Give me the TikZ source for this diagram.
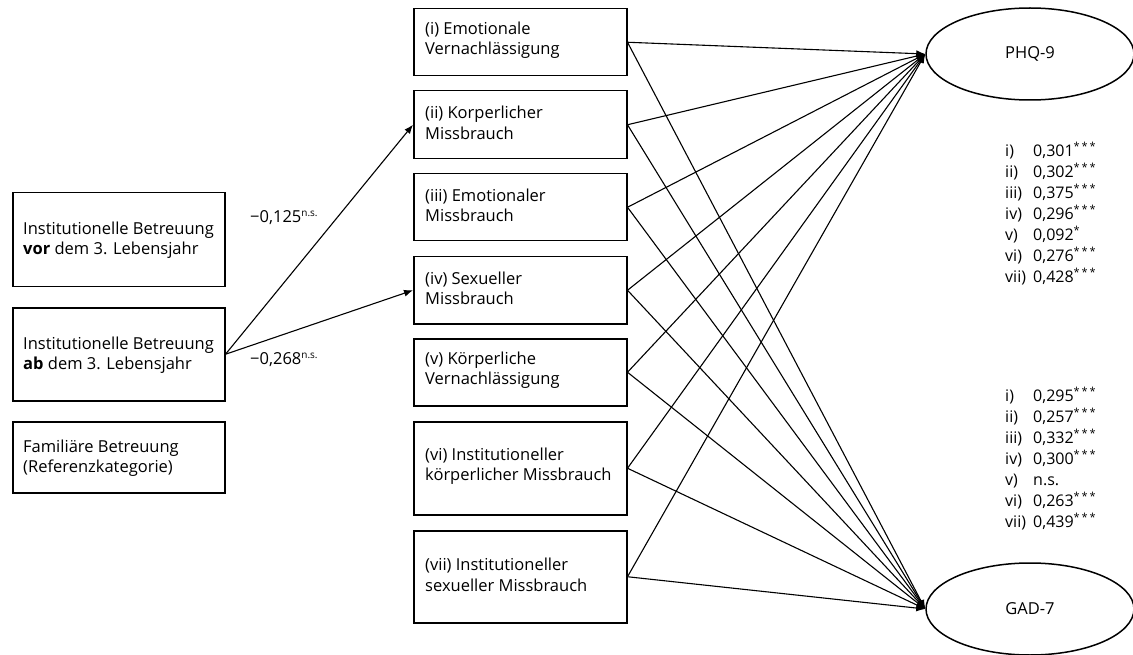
\documentclass[tikz,border=0pt]{standalone}
\usepackage{fontspec}
\setmainfont{Open Sans}
\usetikzlibrary{arrows.meta,shapes.geometric}
\newcommand{\stars}[1]{\textsuperscript{\fontsize{11}{11}\selectfont #1}}
\begin{document}
\begin{tikzpicture}[x=1pt,y=-1pt,
  box/.style={draw,line width=1.5pt,anchor=north west,inner sep=0pt,text width=#1},
  txt/.style={anchor=west,align=left,inner sep=0pt,font=\fontsize{16.5}{20.5}\selectfont},
  lat/.style={draw,ellipse,line width=1.5pt,minimum width=208pt,minimum height=92pt,inner sep=0pt,font=\fontsize{16.5}{20}\selectfont},
  path/.style={line width=1.1pt,-{Latex[length=9pt,width=7pt]}},
  lbl/.style={anchor=west,inner sep=0pt,font=\fontsize{16.5}{20}\selectfont},
  coef/.style={anchor=north west,align=left,font=\fontsize{16}{21}\selectfont,inner sep=0pt}]
\useasboundingbox (0,0) rectangle (1133,655);
% left boxes
\node[box=212pt,minimum height=94pt] (L1) at (12,192) {};
\node[txt] (T1) at (23,240) {Institutionelle Betreuung\\\textbf{vor} dem 3. Lebensjahr};
\node[box=212pt,minimum height=93pt] (L2) at (12,307) {};
\node[txt] (T2) at (23,355) {Institutionelle Betreuung\\\textbf{ab} dem 3. Lebensjahr};
\node[box=212pt,minimum height=71pt] (L3) at (12,421) {};
\node[txt] (T3) at (23,458) {Familiäre Betreuung\\(Referenzkategorie)};
% middle boxes
\foreach \n/\t/\h/\txt in {
  M1/8/67/{(i) Emotionale\\Vernachlässigung},
  M2/90/68/{(ii) Korperlicher\\Missbrauch},
  M3/173/67/{(iii) Emotionaler\\Missbrauch},
  M4/256/67/{(iv) Sexueller\\Missbrauch},
  M5/338/67/{(v) Körperliche\\Vernachlässigung},
  M6/421/93/{(vi) Institutioneller\\körperlicher Missbrauch},
  M7/530/92/{(vii) Institutioneller\\sexueller Missbrauch}}{
  \node[box=213pt,minimum height=\h pt] (\n) at (413,\t) {};
  \node[txt] (\n t) at ([xshift=12pt,yshift=2pt]\n.west) {\txt};
}
% latent
\node[lat] (PHQ) at (1030,54) {PHQ-9};
\node[lat] (GAD) at (1030,609) {GAD-7};
% paths
\foreach \m in {M1,M2,M3,M4,M5,M6,M7}{
  \draw[path] (\m.east) -- (PHQ.west);
  \draw[path] (\m.east) -- (GAD.west);
}
\draw[path] (L2.east) -- (M2.west);
\draw[path] (L2.east) -- (M4.west);
\node[lbl] (B1) at (250,218) {−0,125\textsuperscript{\fontsize{10}{10}\selectfont n.s.}};
\node[lbl] (B2) at (250,360) {−0,268\textsuperscript{\fontsize{10}{10}\selectfont n.s.}};
% coefficients
\node[coef] (C1) at (1005,142) {\begin{tabular}{@{}p{28pt}@{}l@{}}
i) & 0,301\stars{*\,*\,*}\\
ii) & 0,302\stars{*\,*\,*}\\
iii) & 0,375\stars{*\,*\,*}\\
iv) & 0,296\stars{*\,*\,*}\\
v) & 0,092\stars{*}\\
vi) & 0,276\stars{*\,*\,*}\\
vii) & 0,428\stars{*\,*\,*}\end{tabular}};
\node[coef] (C2) at (1005,387) {\begin{tabular}{@{}p{28pt}@{}l@{}}
i) & 0,295\stars{*\,*\,*}\\
ii) & 0,257\stars{*\,*\,*}\\
iii) & 0,332\stars{*\,*\,*}\\
iv) & 0,300\stars{*\,*\,*}\\
v) & n.s.\\
vi) & 0,263\stars{*\,*\,*}\\
vii) & 0,439\stars{*\,*\,*}\end{tabular}};
\end{tikzpicture}
\end{document}
